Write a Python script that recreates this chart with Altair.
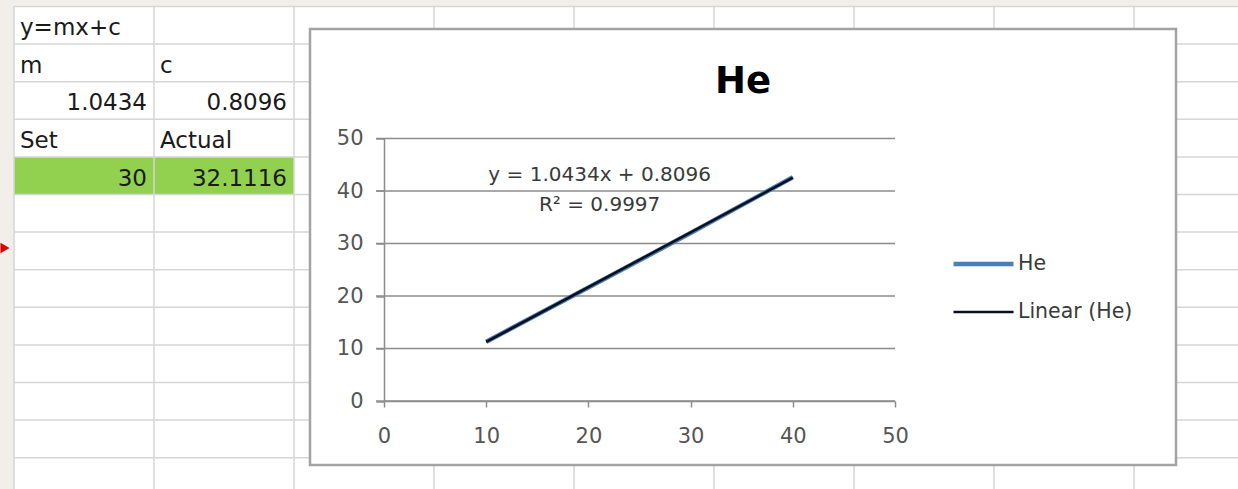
import altair as alt
import pandas as pd

# ---------------- worksheet contents ----------------
m = 1.0434
c = 0.8096
set_value = 30
actual_value = round(m * set_value + c, 4)

cells = {
    "A1": "y=mx+c",
    "A2": "m", "B2": "c",
    "A3": m, "B3": c,
    "A4": "Set", "B4": "Actual",
    "A5": set_value, "B5": actual_value,
}
highlighted = ["A5", "B5"]
sheet_cols = 9
sheet_rows = 13

# ---------------- chart values ----------------
series_name = "He"
trend_name = f"Linear ({series_name})"
set_points = [10, 20, 30, 40]
he_readings = [11.3, 21.6, 32.0, 42.6]
r_squared = 0.9997
tick_values = [0, 10, 20, 30, 40, 50]
trend_label_at = (21.1, 41.9)  # data-space anchor of the trendline label

# ---------------- layout / style ----------------
PLOT_X, PLOT_Y, PLOT_W, PLOT_H = 384, 138.5, 511, 262.5
CANVAS_W, CANVAS_H = 1238, 489
SHEET_X, SHEET_Y, COL_W, ROW_H = 14, 6.5, 140, 37.6
FRAME = (310, 29, 1176, 465)
FONT = "DejaVu Sans"
SHEET_LINE = "#d6d6d6"
AXIS_GRAY = "#8c8c8c"
LABEL_GRAY = "#555555"
TEXT_GRAY = "#3a3a3a"


def addr(a):
    return ord(a[0]) - ord("A"), int(a[1:]) - 1


cell_df = pd.DataFrame([
    {"col": addr(a)[0], "row": addr(a)[1], "text": str(v),
     "numeric": not isinstance(v, str)}
    for a, v in cells.items()
])
hl = [addr(a) for a in highlighted]
hl_df = pd.DataFrame([{
    "c0": min(h[0] for h in hl), "c1": max(h[0] for h in hl) + 1,
    "r0": hl[0][1], "r1": hl[0][1] + 1,
}])
one = pd.DataFrame({"k": [0]})

# worksheet scales: column / row index -> pixels
sheet_x = alt.Scale(domain=[0, sheet_cols],
                    range=[SHEET_X - PLOT_X, SHEET_X + sheet_cols * COL_W - PLOT_X],
                    nice=False, zero=False)
sheet_y = alt.Scale(domain=[0, sheet_rows],
                    range=[SHEET_Y - PLOT_Y, SHEET_Y + sheet_rows * ROW_H - PLOT_Y],
                    nice=False, zero=False)

sheet_bg = alt.Chart(pd.DataFrame([{"c0": 0, "c1": sheet_cols, "r0": 0, "r1": sheet_rows}])).mark_rect(
    fill="white").encode(
    x=alt.X("c0:Q", scale=sheet_x, axis=None), x2="c1:Q",
    y=alt.Y("r0:Q", scale=sheet_y, axis=None), y2="r1:Q")

green = alt.Chart(hl_df).mark_rect(fill="#92d050").encode(
    x=alt.X("c0:Q", scale=sheet_x, axis=None), x2="c1:Q",
    y=alt.Y("r0:Q", scale=sheet_y, axis=None), y2="r1:Q")

vlines = alt.Chart(pd.DataFrame({"col": list(range(sheet_cols + 1))})).mark_rule(
    color=SHEET_LINE, strokeWidth=1.5).encode(
    x=alt.X("col:Q", scale=sheet_x, axis=None),
    y=alt.YDatum(0, scale=sheet_y, axis=None), y2=alt.Y2Datum(sheet_rows))

hlines = alt.Chart(pd.DataFrame({"row": list(range(sheet_rows + 1))})).mark_rule(
    color=SHEET_LINE, strokeWidth=1.5).encode(
    y=alt.Y("row:Q", scale=sheet_y, axis=None),
    x=alt.XDatum(0, scale=sheet_x, axis=None), x2=alt.X2Datum(sheet_cols))

text_base = alt.Chart(cell_df).transform_calculate(
    edge="datum.numeric ? datum.col + 1 : datum.col",
    bottom="datum.row + 1",
)
text_left = text_base.transform_filter("!datum.numeric").mark_text(
    align="left", baseline="alphabetic", dx=6, dy=-9, font=FONT, fontSize=23,
    color="#1a1a1a").encode(
    x=alt.X("edge:Q", scale=sheet_x, axis=None),
    y=alt.Y("bottom:Q", scale=sheet_y, axis=None), text="text:N")
text_right = text_base.transform_filter("datum.numeric").mark_text(
    align="right", baseline="alphabetic", dx=-7, dy=-9, font=FONT, fontSize=23,
    color="#1a1a1a").encode(
    x=alt.X("edge:Q", scale=sheet_x, axis=None),
    y=alt.Y("bottom:Q", scale=sheet_y, axis=None), text="text:N")

arrow = alt.Chart(one).mark_point(shape="triangle-right", filled=True, color="#e00000",
                                  size=110, opacity=1).encode(
    x=alt.value(5 - PLOT_X), y=alt.value(248 - PLOT_Y))

sheet = alt.layer(sheet_bg, green, vlines, hlines, text_left, text_right, arrow)

# ---------------- the He chart ----------------
main_x = alt.Scale(domain=[0, 50], nice=False, zero=False)
main_y = alt.Scale(domain=[0, 50], nice=False, zero=False)
x_axis = alt.Axis(values=tick_values, grid=False, title=None, zindex=1,
                  domainColor=AXIS_GRAY, domainWidth=1.5, tickColor=AXIS_GRAY,
                  tickWidth=1.5, tickSize=6, labelFont=FONT, labelFontSize=21,
                  labelColor=LABEL_GRAY, labelPadding=18, labelFlush=False)
y_axis = alt.Axis(values=tick_values, grid=False, title=None, zindex=1,
                  domainColor=AXIS_GRAY, domainWidth=1.5, tickColor=AXIS_GRAY,
                  tickWidth=1.5, tickSize=8, labelFont=FONT, labelFontSize=21,
                  labelColor=LABEL_GRAY, labelPadding=13, labelFlush=False)

frame = alt.Chart(one).mark_rect(fill="white", stroke="#a3a3a3", strokeWidth=2.5).encode(
    x=alt.value(FRAME[0] - PLOT_X), x2=alt.value(FRAME[2] - PLOT_X),
    y=alt.value(FRAME[1] - PLOT_Y), y2=alt.value(FRAME[3] - PLOT_Y))

gridlines = alt.Chart(pd.DataFrame({"v": tick_values})).mark_rule(
    color=AXIS_GRAY, strokeWidth=1.5).encode(
    y=alt.Y("v:Q", scale=main_y, axis=y_axis),
    x=alt.value(-8), x2=alt.value(PLOT_W))

trend_x = [set_points[0], set_points[-1]]
series_df = pd.concat([
    pd.DataFrame({"set": set_points, "value": he_readings, "series": series_name}),
    pd.DataFrame({"set": trend_x, "value": [m * x + c for x in trend_x], "series": trend_name}),
], ignore_index=True)

legend = alt.Legend(title=None, orient="none", legendX=569, legendY=108,
                    symbolType="M-2,0H2", symbolSize=900, symbolOffset=13,
                    labelOffset=17, labelFont=FONT, labelFontSize=20.5,
                    labelColor=TEXT_GRAY, rowPadding=21, padding=0)
series_names = [series_name, trend_name]
lines = alt.Chart(series_df).mark_line().encode(
    x=alt.X("set:Q", scale=main_x, axis=x_axis),
    y=alt.Y("value:Q", scale=main_y, axis=y_axis),
    color=alt.Color("series:N", scale=alt.Scale(domain=series_names, range=["#4a7ebb", "#0a0f1a"]),
                    legend=legend),
    strokeWidth=alt.StrokeWidth("series:N", scale=alt.Scale(domain=series_names, range=[4.5, 2.5]),
                                legend=legend),
)

trend_text = f"y = {m}x + {c}\nR\u00b2 = {r_squared}"
eq = alt.Chart(pd.DataFrame([{"x": trend_label_at[0], "y": trend_label_at[1], "label": trend_text}])).mark_text(
    font=FONT, fontSize=20, color=TEXT_GRAY, align="center", baseline="alphabetic",
    lineBreak="\n", lineHeight=30).encode(
    x=alt.X("x:Q", scale=main_x, axis=x_axis),
    y=alt.Y("y:Q", scale=main_y, axis=y_axis), text="label:N")

title = alt.Chart(one).mark_text(text=series_name, font=FONT, fontWeight="bold", fontSize=37,
                                 color="#000000", align="center", baseline="alphabetic").encode(
    x=alt.value((FRAME[0] + FRAME[2]) / 2 - PLOT_X), y=alt.value(93 - PLOT_Y))

plot = alt.layer(frame, gridlines, lines, eq, title)

chart = alt.layer(sheet, plot).resolve_scale(x="independent", y="independent").properties(
    width=PLOT_W, height=PLOT_H,
    padding={"left": PLOT_X, "top": PLOT_Y,
             "right": CANVAS_W - PLOT_X - PLOT_W, "bottom": CANVAS_H - PLOT_Y - PLOT_H},
    autosize=alt.AutoSizeParams(type="none"),
    background="#f2efea",
).configure_view(stroke=None)

chart.save("out.html", embed_options={"renderer": "svg", "actions": False})
